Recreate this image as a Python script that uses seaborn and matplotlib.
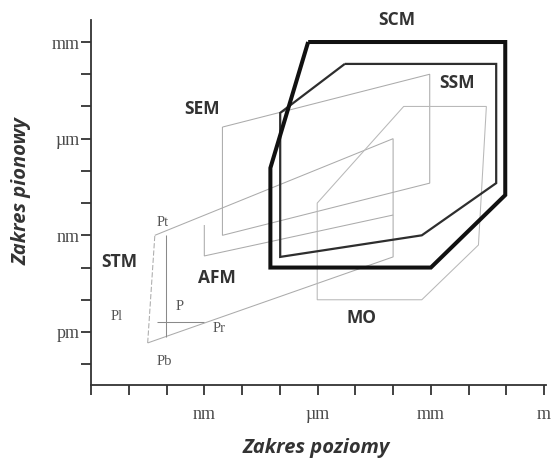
import matplotlib
matplotlib.use("Agg")
import matplotlib.pyplot as plt
import seaborn as sns
import pandas as pd

# Ranges of microscopy techniques: horizontal vs vertical extent,
# both given as log10 of the length in metres.
scm_x = [-6.25, -1.03, -1.03, -3.0, -7.25, -7.25, -6.25]
scm_y = [-3.0, -3.0, -7.75, -10.0, -10.0, -6.91, -3.0]

ssm_x = [-5.28, -1.27, -1.27, -3.24, -6.99, -6.99, -5.28]
ssm_y = [-3.68, -3.68, -7.38, -9.0, -9.67, -5.2, -3.68]

mo_x = [-3.72, -1.53, -1.74, -3.24, -6.01, -6.01, -3.72]
mo_y = [-5.0, -5.0, -9.3, -11.0, -11.0, -8.0, -5.0]

sem_x = [-8.52, -3.03, -3.03, -8.52, -8.52]
sem_y = [-5.64, -4.0, -7.38, -9.0, -5.64]

stm_x = [-10.31, -4.0, -4.0, -10.5]
stm_y = [-9.0, -6.0, -9.67, -12.34]
stm_left_x = [-10.5, -10.31]
stm_left_y = [-12.34, -9.0]

afm_x = [-9.0, -9.0, -4.0]
afm_y = [-8.68, -9.64, -8.37]

p_vert_x = [-10.02, -10.02]
p_vert_y = [-9.0, -12.16]
p_horiz_x = [-10.26, -9.0]
p_horiz_y = [-11.69, -11.69]

x_ticks = list(range(-12, 1))
y_ticks = list(range(-13, -2))
x_tick_labels = {-9: "nm", -6: "µm", -3: "mm", 0: "m"}
y_tick_labels = {-12: "pm", -9: "nm", -6: "µm", -3: "mm"}

sns.set_style("ticks")
plt.rcParams["font.family"] = ["Open Sans", "DejaVu Sans"]

fig = plt.figure(figsize=(5.53, 4.61), dpi=100)
ax = fig.add_axes([0.1646, 0.1649, 0.8228, 0.7917])

light = "#ababab"


def trace(xs, ys, color, lw, ls="-"):
    df = pd.DataFrame({"x": xs, "y": ys})
    sns.lineplot(data=df, x="x", y="y", sort=False, estimator=None,
                 color=color, lw=lw, ls=ls, ax=ax,
                 solid_joinstyle="miter", solid_capstyle="butt")


trace(stm_x, stm_y, light, 0.75)
trace(stm_left_x, stm_left_y, light, 0.75, (0, (5, 2)))
trace(afm_x, afm_y, light, 0.75)
trace(p_vert_x, p_vert_y, "#8a8a8a", 0.75)
trace(p_horiz_x, p_horiz_y, "#8a8a8a", 0.75)
trace(sem_x, sem_y, light, 0.75)
trace(mo_x, mo_y, "#b8b8b8", 0.75)
trace(ssm_x, ssm_y, "#2e2e2e", 1.6)
trace(scm_x, scm_y, "#111111", 2.9)

ax.set_xlim(-12, 0.05)
ax.set_ylim(-13.645, -2.317)
ax.set_xlabel("")
ax.set_ylabel("")

ax.set_xticks(x_ticks)
ax.set_xticklabels([x_tick_labels.get(t, "") for t in x_ticks])
ax.set_yticks(y_ticks)
ax.set_yticklabels([y_tick_labels.get(t, "") for t in y_ticks])

serif = ["Liberation Serif", "DejaVu Serif"]
for lab in ax.get_xticklabels() + ax.get_yticklabels():
    lab.set_family(serif)
    lab.set_fontsize(13)
    lab.set_color("#4a4a4a")

ax.tick_params(axis="x", direction="out", length=7, width=1.3,
               color="#333333", pad=8)
ax.tick_params(axis="y", direction="out", length=7, width=1.3,
               color="#333333", pad=1)

for side in ("top", "right"):
    ax.spines[side].set_visible(False)
for side in ("left", "bottom"):
    ax.spines[side].set_color("#333333")
    ax.spines[side].set_linewidth(1.3)

# technique names
name_style = dict(fontsize=12.5, fontweight="bold", color="#333333",
                  ha="center", va="center")
names = {"SCM": (-3.9, -2.32), "SSM": (-2.32, -4.27), "SEM": (-9.07, -5.08),
         "STM": (-11.24, -9.83), "AFM": (-8.68, -10.32), "MO": (-4.83, -11.57)}
for name, (x, y) in names.items():
    ax.text(x, y, name, **name_style)

# probe corner markers of the STM range
point_style = dict(fontsize=10.5, color="#555555", family=serif,
                   ha="center", va="center")
points = {"Pt": (-10.1, -8.59), "Pl": (-11.31, -11.53), "P": (-9.65, -11.22),
          "Pr": (-8.6, -11.88), "Pb": (-10.05, -12.93)}
for name, (x, y) in points.items():
    ax.text(x, y, name, **point_style)
for t in ax.texts:
    t.set_clip_on(False)

fig.text(316 / 553, 1 - 448 / 461, "Zakres poziomy", fontsize=14.5,
         fontweight="bold", fontstyle="italic", color="#333333",
         ha="center", va="center")
fig.text(22 / 553, 1 - 191 / 461, "Zakres pionowy", fontsize=14.5,
         fontweight="bold", fontstyle="italic", color="#333333",
         ha="center", va="center", rotation=90)

fig.savefig("out.png", dpi=100)
